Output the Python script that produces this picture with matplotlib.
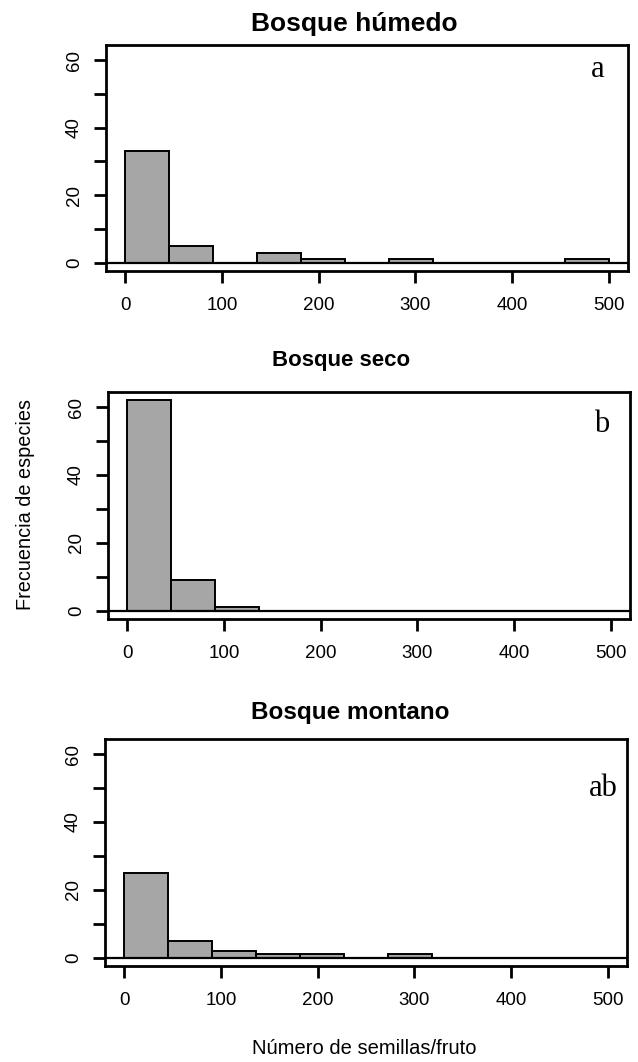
import numpy as np
import matplotlib.pyplot as plt

plt.rcParams['font.family'] = ['Liberation Sans', 'DejaVu Sans']

# 11 bins between 0 and 500 seeds per fruit
BIN_EDGES = np.linspace(0, 500, 12)

TITLES = ["Bosque húmedo", "Bosque seco", "Bosque montano"]
LETTERS = ["a", "b", "ab"]

HUMEDO = [33, 5, 0, 3, 1, 0, 1, 0, 0, 0, 1]
SECO = [62, 9, 1, 0, 0, 0, 0, 0, 0, 0, 0]
MONTANO = [25, 5, 2, 1, 1, 0, 1, 0, 0, 0, 0]

COUNTS = [HUMEDO, SECO, MONTANO]

W, H = 638, 1062
fig = plt.figure(figsize=(W / 100, H / 100), dpi=100)

# panel boxes in pixels: left, top, right, bottom
boxes = [(106, 45, 628, 271), (108, 392, 630, 619), (105, 739, 627, 966)]
title_pos = [(354, 31, 19), (341, 366, 16), (350, 719, 17.5)]
letter_pos = [(604, 77), (609, 432), (618, 796)]

for i in range(3):
    l, t, r, b = boxes[i]
    ax = fig.add_axes([l / W, 1 - b / H, (r - l) / W, (b - t) / H])
    edges = BIN_EDGES
    ax.bar(edges[:-1], COUNTS[i], width=np.diff(edges), align='edge',
           color='#a6a6a6', edgecolor='black', linewidth=1.4, zorder=2)
    ax.axhline(0, color='black', linewidth=1.6, zorder=3)

    ax.set_xlim(-20, 520)
    ax.set_ylim(-2.48, 64.48)
    ax.set_xticks([0, 100, 200, 300, 400, 500])
    ax.set_yticks([0, 10, 20, 30, 40, 50, 60])
    ax.set_yticklabels(['0', '', '20', '', '40', '', '60'])

    for s in ax.spines.values():
        s.set_linewidth(2.0)
    ax.tick_params(axis='both', length=8.6, width=2.0, labelsize=13.5)
    ax.tick_params(axis='x', pad=10)
    ax.tick_params(axis='y', pad=8, labelrotation=90)
    for lab in ax.get_yticklabels():
        lab.set_va('center')

    tx, ty, ts = title_pos[i]
    fig.text(tx / W, 1 - ty / H, TITLES[i], ha='center', va='baseline',
             fontsize=ts, fontweight='bold')
    lx, ly = letter_pos[i]
    fig.text(lx / W, 1 - ly / H, LETTERS[i], ha='right', va='baseline',
             fontsize=22, family='Liberation Serif')

fig.text(26 / W, 1 - 505 / H, "Frecuencia de especies", rotation=90,
         ha='center', va='center', fontsize=14.3)
fig.text(364 / W, 1 - 1048 / H, "Número de semillas/fruto",
         ha='center', va='center', fontsize=14.5)

fig.savefig('out.png', dpi=100)
